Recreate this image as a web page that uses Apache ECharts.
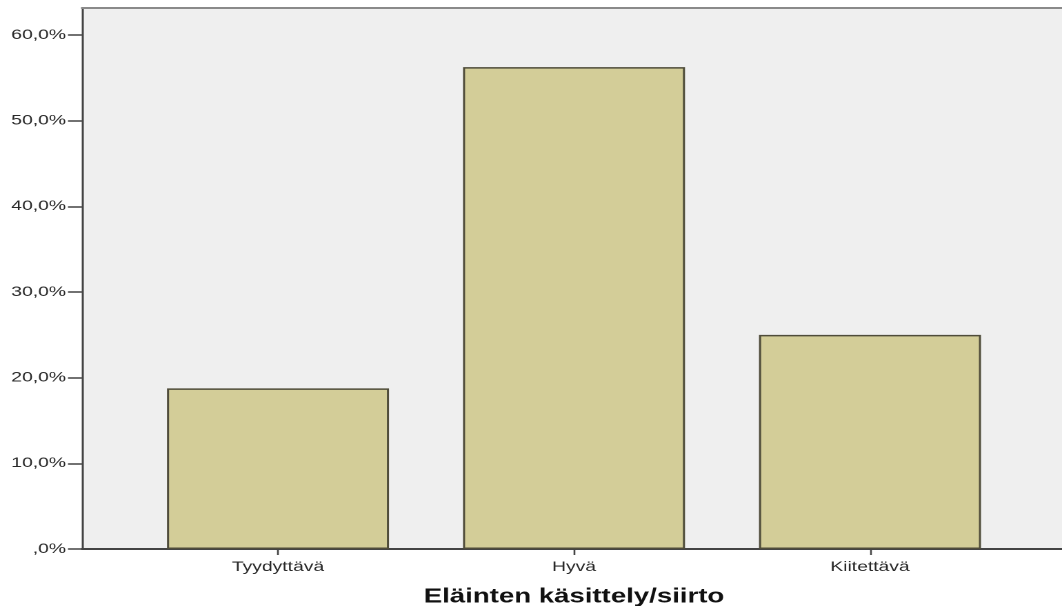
<!DOCTYPE html>
<html>
<head>
<meta charset="utf-8">
<script src="https://cdn.jsdelivr.net/npm/echarts@6/dist/echarts.min.js"></script>
<style>
html,body{margin:0;padding:0;background:#fff;overflow:hidden;}
#wrap{width:1062px;height:606px;overflow:hidden;}
#c{width:770px;height:606px;transform:scaleX(1.37922);transform-origin:0 0;}
</style>
</head>
<body>
<div id="wrap"><div id="c"></div></div>
<script>
const categories = ['Tyydyttävä', 'Hyvä', 'Kiitettävä'];
const percentValues = [18.75, 56.25, 25.0];
const yTickValues = [0, 10, 20, 30, 40, 50, 60];
const axisTitle = 'Eläinten käsittely/siirto';

const S = 1062 / 770;            // horizontal stretch of the picture
const px = v => v / S;           // reference pixel -> chart pixel (horizontal)
const W = 770;

function fmtPct(v) {
  if (v === 0) return ',0%';
  return v.toFixed(1).replace('.', ',') + '%';
}

const chart = echarts.init(document.getElementById('c'), null, {devicePixelRatio: 2});
const font = '"Liberation Sans", Arial, sans-serif';

chart.setOption({
  animation: false,
  backgroundColor: '#ffffff',
  grid: [
    { // bar grid (category bands)
      left: px(130), right: W - px(1018), top: 35, bottom: 57,
      containLabel: false, outerBoundsMode: 'none'
    },
    { // plot frame / background
      left: px(82), right: -10, top: 8, bottom: 57,
      show: true, backgroundColor: '#efefef', borderWidth: 0, z: 0,
      containLabel: false, outerBoundsMode: 'none'
    }
  ],
  xAxis: [
    {
      gridIndex: 0, type: 'category', data: categories,
      axisLine: {show: false},
      axisTick: {show: true, alignWithLabel: true, length: 6, lineStyle: {color: '#444', width: 1.3}},
      axisLabel: {color: '#2a2a2a', fontSize: 14, fontFamily: font, margin: 11},
      name: axisTitle, nameLocation: 'middle', nameGap: 38,
      nameTextStyle: {fontSize: 20, fontWeight: 'bold', color: '#111', fontFamily: font}
    },
    {
      gridIndex: 1, type: 'value', min: 0, max: 1, position: 'bottom',
      axisLine: {show: true, onZero: false, lineStyle: {color: '#444', width: 2}},
      axisTick: {show: false}, axisLabel: {show: false}, splitLine: {show: false}
    },
    {
      gridIndex: 1, type: 'value', min: 0, max: 1, position: 'top',
      axisLine: {show: true, onZero: false, lineStyle: {color: '#8a8a8a', width: 2}},
      axisTick: {show: false}, axisLabel: {show: false}, splitLine: {show: false}
    }
  ],
  yAxis: [
    {
      gridIndex: 0, type: 'value', min: 0, max: 60, interval: 10,
      offset: px(130) - px(82),
      axisLine: {show: false},
      axisTick: {show: true, length: px(14), lineStyle: {color: '#444', width: 1.5}},
      axisLabel: {color: '#2a2a2a', fontSize: 14, fontFamily: font, margin: px(16), formatter: fmtPct},
      splitLine: {show: false}
    },
    {
      gridIndex: 1, type: 'value', min: 0, max: 1, position: 'left',
      axisLine: {show: true, onZero: false, lineStyle: {color: '#444', width: 1.5}},
      axisTick: {show: false}, axisLabel: {show: false}, splitLine: {show: false}
    }
  ],
  series: [{
    type: 'bar', xAxisIndex: 0, yAxisIndex: 0,
    data: percentValues,
    barWidth: '75%',
    itemStyle: {color: '#d3cd98', borderColor: '#4f4c3a', borderWidth: 1.5},
    z: 3
  }]
});
</script>
</body>
</html>
